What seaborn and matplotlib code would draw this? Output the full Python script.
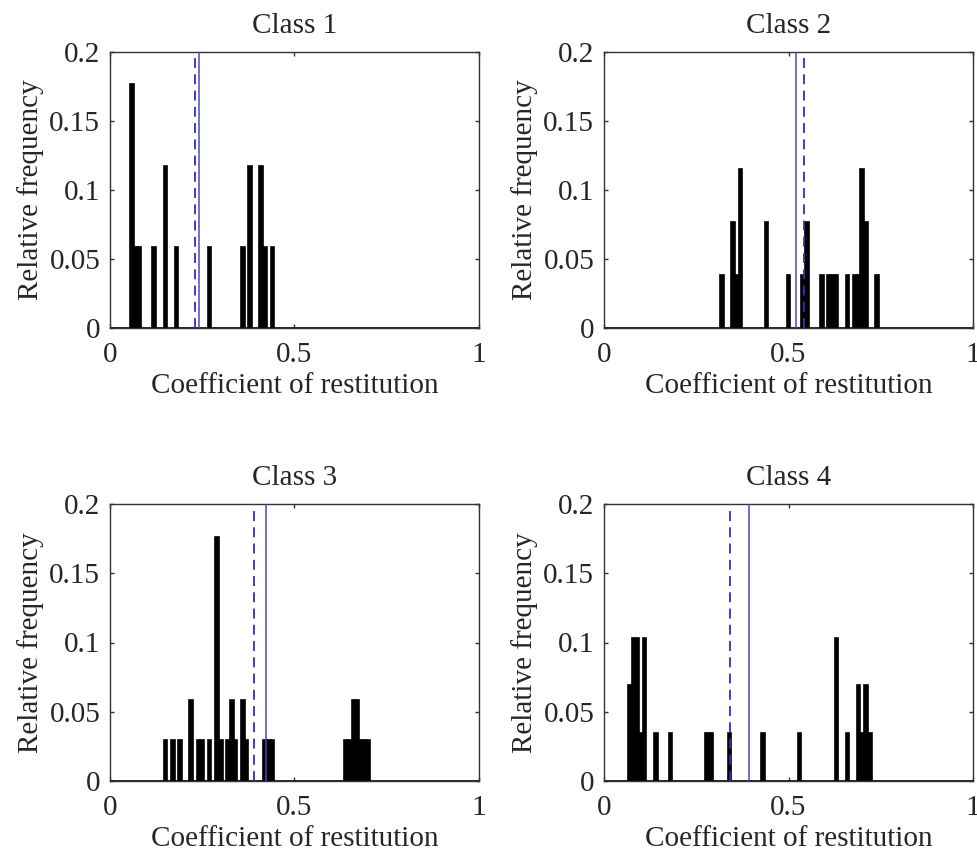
import numpy as np
import pandas as pd
import matplotlib
matplotlib.use("Agg")
import matplotlib.pyplot as plt
import seaborn as sns

# Coefficient-of-restitution observations for each class (one entry per impact)
class1 = [0.06, 0.06, 0.06, 0.07, 0.08, 0.12, 0.15, 0.15, 0.18, 0.27,
          0.36, 0.38, 0.38, 0.41, 0.41, 0.42, 0.44]
class2 = [0.32, 0.35, 0.35, 0.36, 0.37, 0.37, 0.37, 0.44, 0.44, 0.50,
          0.54, 0.55, 0.55, 0.59, 0.61, 0.62, 0.63, 0.66, 0.68, 0.69,
          0.70, 0.70, 0.70, 0.71, 0.71, 0.74]
class3 = [0.15, 0.17, 0.19, 0.22, 0.22, 0.24, 0.25, 0.27,
          0.29, 0.29, 0.29, 0.29, 0.29, 0.29, 0.30, 0.32, 0.33, 0.33,
          0.34, 0.36, 0.36, 0.37, 0.42, 0.43, 0.44,
          0.64, 0.65, 0.66, 0.66, 0.67, 0.67, 0.68, 0.69, 0.70]
class4 = [0.07, 0.07, 0.08, 0.08, 0.08, 0.09, 0.09, 0.09, 0.10,
          0.11, 0.11, 0.11, 0.14, 0.18, 0.28, 0.29, 0.34, 0.43, 0.53,
          0.63, 0.63, 0.63, 0.66, 0.69, 0.69, 0.70, 0.71, 0.71, 0.72]

class_names = ["Class 1", "Class 2", "Class 3", "Class 4"]
class_data = [class1, class2, class3, class4]

# Reference values drawn as vertical lines: dashed (sample mean) and solid (model)
dashed_values = [0.229, 0.542, 0.391, 0.3415]
solid_values = [0.242, 0.521, 0.422, 0.392]

x_ticks = [0, 0.5, 1]
x_tick_labels = ["0", "0.5", "1"]
y_ticks = [0, 0.05, 0.1, 0.15, 0.2]
y_tick_labels = ["0", "0.05", "0.1", "0.15", "0.2"]

sns.set_theme(style="ticks")
plt.rcParams["font.family"] = ["Liberation Serif", "DejaVu Serif"]
plt.rcParams["axes.edgecolor"] = "#333333"
plt.rcParams["axes.linewidth"] = 1.0

fig = plt.figure(figsize=(9.78, 8.57), dpi=100)
fig.patch.set_facecolor("white")

W, H = 978.0, 857.0
panel_boxes = [
    (110, 52, 369, 276),
    (604, 52, 369, 276),
    (110, 504, 369, 277),
    (604, 504, 369, 277),
]

# Histogram bins of width 0.01 centred on 0, 0.01, ..., 1
bin_edges = np.arange(-0.005, 1.0051, 0.01)

FS = 21
for name, data, dv, sv, (px, py, pw, ph) in zip(
        class_names, class_data, dashed_values, solid_values, panel_boxes):
    ax = fig.add_axes([px / W, 1 - (py + ph) / H, pw / W, ph / H])
    df = pd.DataFrame({"cor": data})
    sns.histplot(data=df, x="cor", bins=bin_edges, stat="probability",
                 color="black", edgecolor="black", linewidth=1.2,
                 alpha=1.0, ax=ax)
    ax.axvline(dv, color="#2f2fc0", lw=1.3, dashes=(5.5, 3.5), zorder=3)
    ax.axvline(sv, color="#4b4bb8", lw=1.1, zorder=3)

    ax.set_xlim(0, 1)
    ax.set_ylim(0, 0.2)
    ax.set_xticks(x_ticks)
    ax.set_xticklabels(x_tick_labels)
    ax.set_yticks(y_ticks)
    ax.set_yticklabels(y_tick_labels)
    ax.tick_params(direction="in", top=True, right=True, length=3,
                   width=1.0, color="#333333", labelsize=FS, pad=7)
    ax.tick_params(axis="x", pad=10)
    ax.set_xlabel("Coefficient of restitution", fontsize=FS, labelpad=4)
    ax.set_ylabel("Relative frequency", fontsize=FS, labelpad=4)
    ax.set_title(name, fontsize=FS, pad=14)
    ax.set_facecolor("white")
    for s in ax.spines.values():
        s.set_visible(True)
        s.set_color("#333333")

fig.savefig("out.png", dpi=100, facecolor="white")
